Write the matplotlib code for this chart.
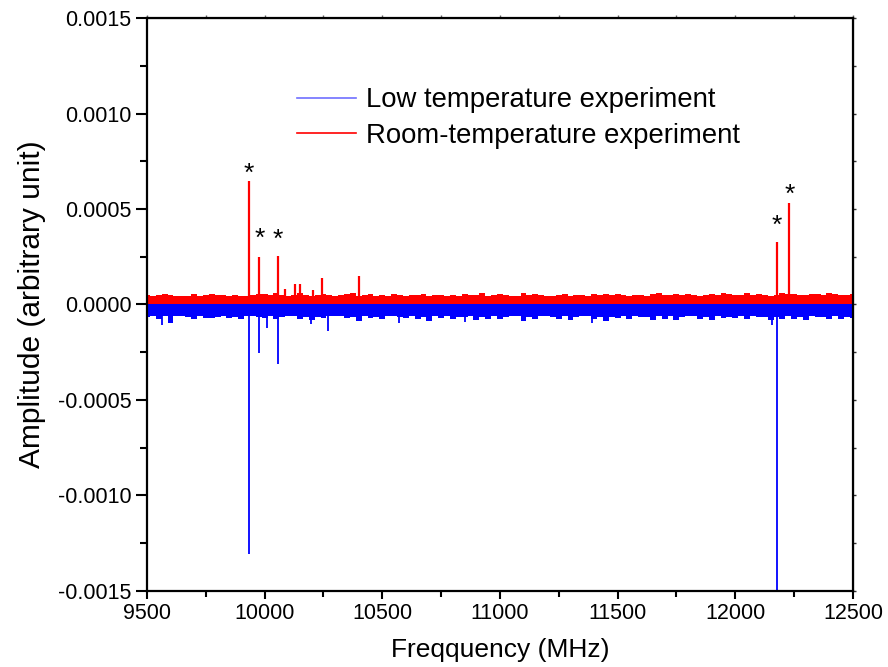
import numpy as np
import matplotlib
matplotlib.use("Agg")
import matplotlib.pyplot as plt
from matplotlib.lines import Line2D
from matplotlib.ticker import MultipleLocator, FormatStrFormatter

plt.rcParams['font.family'] = ['Liberation Sans', 'DejaVu Sans']

# noise band envelopes, sampled every 25 MHz from 9500 to 12500 (units of 1e-5)
noise_freq = np.arange(9500, 12501, 25)
red_top = [
    4.8, 4.4, 5.2, 5.6, 5.0, 4.5, 4.3, 4.7, 5.5, 4.6,
    4.9, 5.4, 5.2, 4.8, 4.6, 5.1, 4.7, 4.5, 4.8, 5.6,
    5.4, 4.8, 5.8, 5.1, 4.6, 4.9, 6.0, 5.2, 4.7, 5.0,
    5.5, 5.1, 4.6, 4.8, 5.4, 5.9, 4.7, 4.9, 5.3, 4.7,
    5.0, 4.6, 5.4, 4.8, 4.5, 4.9, 5.2, 5.7, 4.5, 5.0,
    5.2, 4.7, 5.1, 4.5, 5.4, 4.8, 5.0, 5.8, 4.6, 4.9,
    5.6, 5.0, 4.5, 4.7, 5.8, 5.1, 5.4, 4.8, 4.6, 4.6,
    5.1, 5.7, 4.5, 4.9, 5.1, 4.6, 5.4, 5.0, 5.7, 4.8,
    5.3, 4.9, 4.6, 5.0, 5.2, 4.7, 5.5, 6.1, 4.8, 4.9,
    5.4, 5.0, 5.7, 5.1, 4.7, 5.2, 5.5, 5.0, 5.8, 5.3,
    4.8, 5.1, 6.0, 5.2, 5.7, 5.0, 4.7, 5.2, 5.8, 5.4,
    5.7, 5.2, 4.9, 5.3, 5.6, 5.1, 5.8, 5.4, 4.8, 5.2,
    5.5,
]
blue_bottom = [
    -6.8, -5.9, -7.4, -6.1, -9.5, -6.0, -5.8, -6.3, -7.6, -5.8,
    -7.0, -7.2, -6.5, -6.0, -6.9, -6.4, -7.8, -6.1, -6.0, -6.5,
    -7.1, -6.2, -7.6, -6.4, -6.0, -6.1, -7.4, -6.6, -8.2, -6.3,
    -7.3, -6.0, -6.2, -6.2, -7.0, -6.5, -8.4, -6.1, -7.2, -6.3,
    -7.5, -6.2, -6.1, -6.4, -7.1, -6.0, -7.6, -6.3, -8.6, -6.2,
    -7.2, -6.1, -7.8, -6.5, -6.3, -6.2, -8.0, -6.4, -7.4, -6.1,
    -7.7, -6.3, -6.2, -6.0, -8.5, -6.4, -7.5, -6.2, -6.1, -6.3,
    -7.4, -6.1, -8.1, -6.5, -6.2, -6.0, -7.8, -6.3, -8.8, -6.4,
    -7.3, -6.2, -7.7, -6.1, -6.3, -6.6, -8.2, -6.2, -7.4, -6.0,
    -7.9, -6.3, -6.2, -6.1, -7.6, -6.4, -8.3, -6.2, -7.3, -6.5,
    -7.1, -6.2, -7.8, -6.0, -6.4, -6.3, -8.1, -6.5, -7.6, -6.1,
    -7.5, -6.3, -7.9, -6.2, -6.3, -6.4, -7.7, -6.1, -7.6, -6.8,
    -7.2,
]

# resolved lines (MHz, amplitude)
red_peak_f = [9933, 9977, 10057, 10088, 10129, 10150, 10204, 10245, 10399, 12178, 12228]
red_peak_a = [6.47e-4, 2.49e-4, 2.54e-4, 0.80e-4, 1.07e-4, 1.07e-4, 0.76e-4, 1.39e-4, 1.50e-4, 3.26e-4, 5.33e-4]
blue_peak_f = [9562, 9933, 9977, 10008, 10057, 10198, 10270, 10570, 10850, 11390, 12154, 12178]
blue_peak_a = [-1.07e-4, -13.08e-4, -2.56e-4, -1.21e-4, -3.13e-4, -1.0e-4, -1.39e-4,
               -0.95e-4, -0.92e-4, -0.95e-4, -1.1e-4, -16.0e-4]

# asterisk markers above assigned lines
star_f = [9933, 9980, 10057, 12175, 12230]
star_a = [6.85e-4, 3.45e-4, 3.38e-4, 4.1e-4, 5.75e-4]

fig = plt.figure(figsize=(8.88, 6.67), dpi=100)
ax = fig.add_axes([0.1655, 0.114, 0.795, 0.859])

rt = np.array(red_top) * 1e-5
bb = np.array(blue_bottom) * 1e-5

ax.fill_between(noise_freq, bb, 0, color='#0000ff', lw=0, step='mid')
ax.vlines(blue_peak_f, 0, blue_peak_a, color='#0000ff', lw=1.3)

ax.fill_between(noise_freq, 0, rt, color='#ff0000', lw=0, step='mid')
ax.vlines(red_peak_f, 0, red_peak_a, color='#ff0000', lw=1.6)

for f, a in zip(star_f, star_a):
    ax.text(f, a, '*', ha='center', va='center', fontsize=19, color='black')

ax.set_xlim(9500, 12500)
ax.set_ylim(-0.0015, 0.0015)
ax.xaxis.set_major_locator(MultipleLocator(500))
ax.xaxis.set_minor_locator(MultipleLocator(250))
ax.yaxis.set_major_locator(MultipleLocator(0.0005))
ax.yaxis.set_minor_locator(MultipleLocator(0.00025))
ax.yaxis.set_major_formatter(FormatStrFormatter('%.4f'))

for s in ax.spines.values():
    s.set_linewidth(1.6)
ax.tick_params(axis='y', which='major', direction='out', length=8, width=1.5, labelsize=15.5, pad=3)
ax.tick_params(axis='y', which='minor', direction='out', length=5, width=1.5)
ax.tick_params(axis='x', which='major', direction='out', length=5.5, width=1.5, labelsize=15.5, pad=3)
ax.tick_params(axis='x', which='minor', direction='out', length=4.5, width=1.5)

top = ax.secondary_xaxis('top')
top.xaxis.set_major_locator(MultipleLocator(250))
top.tick_params(length=2, width=1, color='#666666', labeltop=False)
right = ax.secondary_yaxis('right')
right.yaxis.set_major_locator(MultipleLocator(0.00025))
right.tick_params(length=2, width=1, color='#333333', labelright=False)

ax.set_xlabel('Freqquency (MHz)', fontsize=19, labelpad=10)
ax.set_ylabel('Amplitude (arbitrary unit)', fontsize=21.5, labelpad=9)

handles = [Line2D([], [], color='#6f6fff', lw=1.2),
           Line2D([], [], color='#ff0000', lw=1.2)]
ax.legend(handles, ['Low temperature experiment', 'Room-temperature experiment'],
          loc='upper left', bbox_to_anchor=(0.178, 0.922), frameon=False,
          fontsize=19.8, handlelength=2.15, handletextpad=0.35, labelspacing=0.33)

fig.savefig('out.png', dpi=100)
